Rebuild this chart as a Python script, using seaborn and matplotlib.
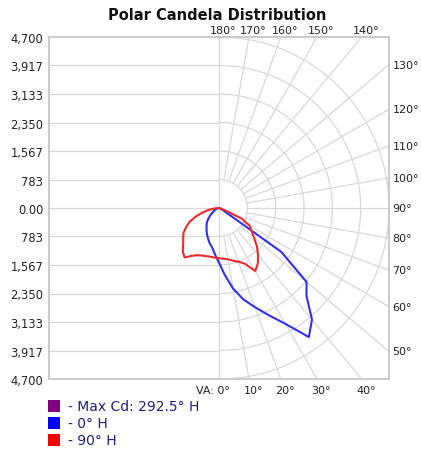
import numpy as np
import pandas as pd
import matplotlib
matplotlib.use('Agg')
import matplotlib.pyplot as plt
import seaborn as sns
from matplotlib.patches import Rectangle

# candela scale of the chart
max_cd = 4700
ring_values = [783.33, 1566.67, 2350, 3133.33, 3916.67, 4700]
y_ticks = [4700, 3916.67, 3133.33, 2350, 1566.67, 783.33, 0,
           -783.33, -1566.67, -2350, -3133.33, -3916.67, -4700]
y_labels = ['4,700', '3,917', '3,133', '2,350', '1,567', '783', '0.00',
            '783', '1,567', '2,350', '3,133', '3,917', '4,700']

# vertical angles (deg from nadir) and candela per half-plane
vert_angles = [0, 5, 10, 15, 20, 25, 30, 35, 40, 45, 50, 55, 60, 65, 70, 75, 80, 85, 90]
cd_0h = [1500, 1850, 2250, 2600, 2900, 3250, 3680, 4330, 4000, 3420, 3160, 2100, 150, 60, 20, 0, 0, 0, 0]
cd_180h = [1500, 1280, 1100, 1000, 890, 790, 690, 600, 520, 420, 310, 230, 160, 110, 70, 40, 20, 5, 0]
cd_90h = [1390, 1400, 1430, 1500, 1570, 1690, 2000, 1870, 1680, 1480, 1260, 1100, 980, 700, 150, 40, 10, 0, 0]
cd_270h = [1380, 1370, 1360, 1370, 1390, 1430, 1520, 1660, 1560, 1400, 1290, 1200, 1050, 900, 680, 470, 280, 120, 0]

top_angles = [180, 170, 160, 150, 140]
right_angles = [130, 120, 110, 100, 90, 80, 70, 60, 50]
bottom_angles = [0, 10, 20, 30, 40]

legend_labels = ['- Max Cd: 292.5\u00b0 H', '- 0\u00b0 H', '- 90\u00b0 H']
legend_colors = ['#800080', '#0000ff', '#ff0000']

grid_color = '#d8d8d8'
text_color = '#1f1f7a'


def plane_loop(right_cd, left_cd):
    # closed outline: left half from 90 down to 0, then right half from 0 up to 90
    th = np.radians(vert_angles)
    xl = -np.array(left_cd) * np.sin(th)
    yl = -np.array(left_cd) * np.cos(th)
    xr = np.array(right_cd) * np.sin(th)
    yr = -np.array(right_cd) * np.cos(th)
    x = np.concatenate([xl[::-1], xr[1:]])
    y = np.concatenate([yl[::-1], yr[1:]])
    return pd.DataFrame({'x': x, 'y': y})


sns.set_style('white')
W, H = 421, 456
fig = plt.figure(figsize=(W / 100, H / 100), dpi=100)
ax = fig.add_axes([49 / W, 76 / H, 340 / W, 342 / H])
ax.set_xlim(-max_cd, max_cd)
ax.set_ylim(-max_cd, max_cd)

# grid: horizontal lines on the left, vertical centre line
for yv in y_ticks:
    ax.plot([-max_cd, 0], [yv, yv], color=grid_color, lw=0.9, zorder=1)
ax.plot([0, 0], [-max_cd, max_cd], color=grid_color, lw=0.9, zorder=1)

# grid: half rings on the right
t = np.radians(np.linspace(0, 180, 200))
for r in ring_values:
    ax.plot(r * np.sin(t), -r * np.cos(t), color=grid_color, lw=0.9, zorder=1)

# grid: radial spokes every 10 deg, from the first ring to the frame
for a in range(10, 180, 10):
    ar = np.radians(a)
    ax.plot([ring_values[0] * np.sin(ar), 8000 * np.sin(ar)],
            [-ring_values[0] * np.cos(ar), -8000 * np.cos(ar)],
            color=grid_color, lw=0.9, zorder=1)

# photometric curves
sns.lineplot(data=plane_loop(cd_0h, cd_180h), x='x', y='y', sort=False,
             estimator=None, color='#3030ee', lw=1.5, ax=ax, zorder=3)
sns.lineplot(data=plane_loop(cd_90h, cd_270h), x='x', y='y', sort=False,
             estimator=None, color='#ee2a2a', lw=1.5, ax=ax, zorder=3)

ax.set_xlabel('')
ax.set_ylabel('')
ax.set_xticks([])
ax.set_yticks(y_ticks)
ax.set_yticklabels(y_labels)
ax.tick_params(axis='y', length=0, pad=4, labelsize=8.3, labelcolor='#222222')
for s in ax.spines.values():
    s.set_color('#cccccc')
    s.set_linewidth(1.5)

# angle labels round the frame
for a in top_angles:
    xv = max_cd * np.tan(np.radians(180 - a))
    ax.annotate(f'{a}\u00b0', xy=(xv, max_cd), xytext=(3, 1.5), textcoords='offset points',
                ha='center', va='bottom', fontsize=8, color='#222222', annotation_clip=False)
for a in right_angles:
    ar = np.radians(a)
    yv = -max_cd * np.cos(ar) / np.sin(ar)
    ax.annotate(f'{a}\u00b0', xy=(max_cd, yv), xytext=(2.5, 0), textcoords='offset points',
                ha='left', va='center', fontsize=8, color='#222222', annotation_clip=False)
for a in bottom_angles:
    xv = max_cd * np.tan(np.radians(a))
    if a == 0:
        ax.annotate('VA: 0\u00b0', xy=(xv, -max_cd), xytext=(8, -4), textcoords='offset points',
                    ha='right', va='top', fontsize=8, color='#222222', annotation_clip=False)
    else:
        ax.annotate(f'{a}\u00b0', xy=(xv, -max_cd), xytext=(3, -4), textcoords='offset points',
                    ha='center', va='top', fontsize=8, color='#222222', annotation_clip=False)

fig.text(217 / W, 1 - 15 / H, 'Polar Candela Distribution', ha='center', va='center',
         fontsize=10.5, fontweight='bold', color='#111111')

# legend below the chart
for i, (lab, col) in enumerate(zip(legend_labels, legend_colors)):
    yc = 407 + i * 17
    fig.patches.append(Rectangle((48 / W, 1 - (yc + 6) / H), 12 / W, 12 / H,
                                 transform=fig.transFigure, facecolor=col, edgecolor='none'))
    fig.text(68 / W, 1 - yc / H, lab, ha='left', va='center', fontsize=10, color=text_color)

fig.savefig('out.png', dpi=100)
